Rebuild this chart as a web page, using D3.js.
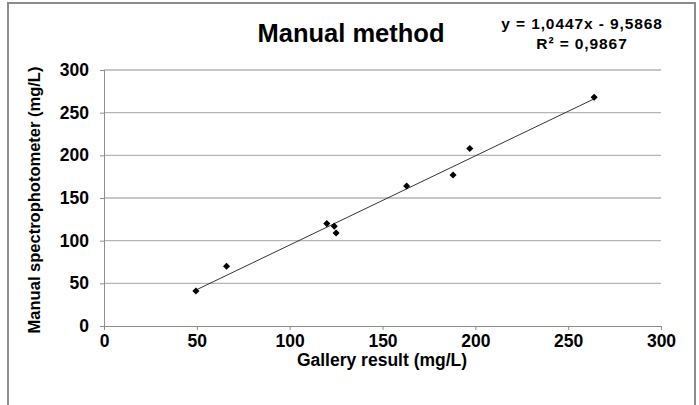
<!DOCTYPE html>
<html>
<head>
<meta charset="utf-8">
<script src="https://cdn.jsdelivr.net/npm/d3@7"></script>
<style>
  body { margin: 0; background: #fff; }
  svg { display: block; font-family: "Liberation Sans", Arial, sans-serif; }
</style>
</head>
<body>
<div id="chart"></div>
<script>
// data
const galleryResult = [49.5, 66, 120, 124, 125, 163, 188, 197, 264];
const manualResult = [41, 70, 120, 117, 109, 164, 177, 208, 268];
const xTicks = [0, 50, 100, 150, 200, 250, 300];
const yTicks = [0, 50, 100, 150, 200, 250, 300];
const slope = 1.0447, intercept = -9.5868;

const W = 699, H = 405;
const margin = {top: 70, right: 38, bottom: 79, left: 104},
    width = W - margin.left - margin.right,
    height = H - margin.top - margin.bottom;

const root = d3.select("#chart").append("svg")
    .attr("width", W)
    .attr("height", H);

// outer frame
root.append("rect")
    .attr("x", 8).attr("y", 3)
    .attr("width", 687).attr("height", 410)
    .attr("fill", "none")
    .attr("stroke", "#8c8c8c")
    .attr("stroke-width", 2);

const svg = root.append("g")
    .attr("transform", `translate(${margin.left},${margin.top})`);

const x = d3.scaleLinear().domain([0, 300]).range([0, width]);
const y = d3.scaleLinear().domain([0, 300]).range([height, 0]);

// gridlines
svg.append("g")
    .selectAll("line")
    .data(yTicks.filter((d) => d > 0))
    .join("line")
    .attr("x1", 0)
    .attr("x2", width)
    .attr("y1", (d) => y(d))
    .attr("y2", (d) => y(d))
    .attr("stroke", "#b4b4b4")
    .attr("stroke-width", 1.3);

const xAxis = svg.append("g")
    .attr("transform", `translate(0,${height})`)
    .call(d3.axisBottom(x).tickValues(xTicks).tickSize(4).tickPadding(5));
const yAxis = svg.append("g")
    .call(d3.axisLeft(y).tickValues(yTicks).tickSize(4).tickPadding(11));

[xAxis, yAxis].forEach((a) => {
    a.select(".domain").attr("stroke", "#8c8c8c");
    a.selectAll(".tick line").attr("stroke", "#8c8c8c");
    a.selectAll(".tick text")
        .attr("fill", "#000")
        .style("font-size", "17.5px")
        .style("font-weight", "bold");
});

// trendline over the data range
const xr = d3.extent(galleryResult);
svg.append("line")
    .attr("x1", x(xr[0]))
    .attr("y1", y(slope * xr[0] + intercept))
    .attr("x2", x(xr[1]))
    .attr("y2", y(slope * xr[1] + intercept))
    .attr("stroke", "#333")
    .attr("stroke-width", 1);

// points (diamonds)
svg.append("g")
    .selectAll("path")
    .data(galleryResult.map((g, i) => [g, manualResult[i]]))
    .join("path")
    .attr("d", d3.symbol(d3.symbolDiamond2, 32))
    .attr("transform", (d) => `translate(${x(d[0])},${y(d[1])})`)
    .attr("fill", "#000");

// title
root.append("text")
    .attr("x", 351)
    .attr("y", 42)
    .attr("text-anchor", "middle")
    .style("font-size", "25.5px")
    .style("font-weight", "bold")
    .text("Manual method");

// equation
root.append("text")
    .attr("x", 582)
    .attr("y", 29)
    .attr("text-anchor", "middle")
    .style("font-size", "15.5px")
    .style("font-weight", "bold")
    .style("letter-spacing", "0.9px")
    .text("y = 1,0447x - 9,5868");
root.append("text")
    .attr("x", 582)
    .attr("y", 49)
    .attr("text-anchor", "middle")
    .style("font-size", "15.5px")
    .style("font-weight", "bold")
    .style("letter-spacing", "0.9px")
    .text("R² = 0,9867");

// axis labels
root.append("text")
    .attr("x", 382)
    .attr("y", 366)
    .attr("text-anchor", "middle")
    .style("font-size", "17.5px")
    .style("font-weight", "bold")
    .text("Gallery result (mg/L)");

root.append("text")
    .attr("transform", `translate(40,${margin.top + height / 2 + 2}) rotate(-90)`)
    .attr("text-anchor", "middle")
    .style("font-size", "16.5px")
    .style("font-weight", "bold")
    .text("Manual spectrophotometer (mg/L)");
</script>
</body>
</html>
